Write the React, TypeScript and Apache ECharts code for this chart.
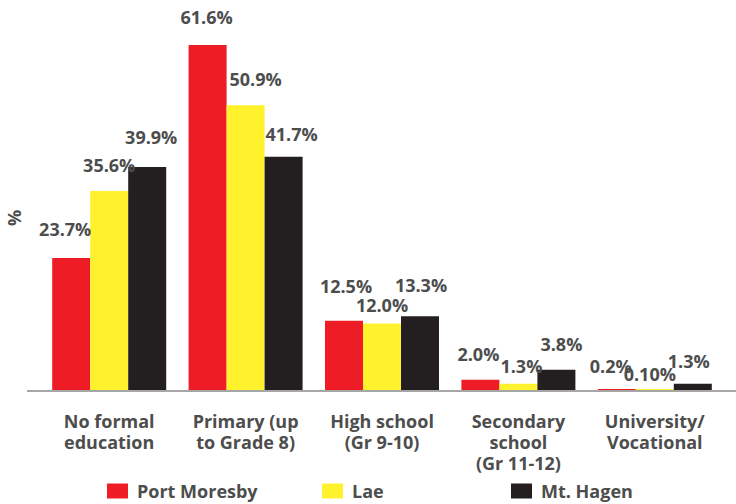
import React, { useEffect, useRef } from "react";
import * as echarts from "echarts";

const categories = [
  "No formal\neducation",
  "Primary (up\nto Grade 8)",
  "High school\n(Gr 9-10)",
  "Secondary\nschool\n(Gr 11-12)",
  "University/\nVocational",
];
const seriesNames = ["Port Moresby", "Lae", "Mt. Hagen"];
const portMoresby = [23.7, 61.6, 12.5, 2.0, 0.2];
const lae = [35.6, 50.9, 12.0, 1.3, 0.1];
const mtHagen = [39.9, 41.7, 13.3, 3.8, 1.3];
const valueLabels = [
  ["23.7%", "61.6%", "12.5%", "2.0%", "0.2%"],
  ["35.6%", "50.9%", "12.0%", "1.3%", "0.10%"],
  ["39.9%", "41.7%", "13.3%", "3.8%", "1.3%"],
];

const colors = ["#ee1c25", "#fff22d", "#231f20"];
const textColor = "#4d4d4d";
const font = "'Open Sans', 'Noto Sans', sans-serif";

export default function App() {
  const ref = useRef<HTMLDivElement>(null);
  useEffect(() => {
    document.body.style.margin = "0";
    if (!ref.current) return;
    const chart = echarts.init(ref.current, undefined, { renderer: "svg" });
    const values = [portMoresby, lae, mtHagen];
    const legendLefts = [107, 322, 511];
    // label placement tweaks [dx, distance] per series / category, as in the source layout
    const labelTweaks = [
      [[-6, 20], [-1, 19], [2, 26], [-2, 17], [-6, 14]],
      [[0, 17], [10, 17], [0, 10], [3, 9], [-5, 6]],
      [[4, 21], [8, 14], [1, 22], [5, 17], [-4, 14]],
    ];
    chart.setOption({
      animation: false,
      textStyle: { fontFamily: font },
      grid: { left: 41, right: 13, top: 26, bottom: 113 },
      legend: seriesNames.map((n, i) => ({
        data: [n],
        left: legendLefts[i],
        top: 482,
        padding: 0,
        itemWidth: 21,
        itemHeight: 15,
        itemGap: 14,
        icon: "rect",
        textStyle: {
          color: textColor,
          fontSize: 18,
          fontWeight: "bold",
          fontFamily: font,
          padding: [0, 0, 0, 4],
        },
      })),
      xAxis: {
        type: "category",
        data: categories,
        axisLine: { show: false },
        axisTick: { show: false },
        axisLabel: {
          interval: 0,
          margin: 19,
          color: textColor,
          fontSize: 18,
          fontWeight: "bold",
          lineHeight: 21,
          fontFamily: font,
        },
      },
      yAxis: {
        type: "value",
        min: 0,
        max: 65,
        axisLine: { show: false },
        axisTick: { show: false },
        axisLabel: { show: false },
        splitLine: { show: false },
      },
      graphic: [
        {
          type: "line",
          shape: { x1: 27, y1: 391, x2: 736, y2: 391 },
          style: { stroke: "#a6a6a6", lineWidth: 2 },
          z: 10,
        },
        {
          type: "text",
          x: 14,
          y: 218,
          rotation: Math.PI / 2,
          style: {
            text: "%",
            fill: textColor,
            font: `bold 18px ${font}`,
            textAlign: "center",
            textVerticalAlign: "middle",
          },
        },
      ],
      series: seriesNames.map((n, i) => ({
        name: n,
        type: "bar",
        data: values[i].map((v, j) => ({
          value: v,
          label: {
            distance: labelTweaks[i][j][1],
            offset: [labelTweaks[i][j][0], 0],
          },
        })),
        barWidth: 38,
        barGap: "0%",
        barMinHeight: 2,
        itemStyle: { color: colors[i] },
        label: {
          show: true,
          position: "top",
          color: textColor,
          fontSize: 18,
          fontWeight: "bold",
          fontFamily: font,
          formatter: (p: any) => valueLabels[i][p.dataIndex],
        },
      })),
    });
    return () => chart.dispose();
  }, []);
  return <div ref={ref} style={{ width: 736, height: 504 }} />;
}
